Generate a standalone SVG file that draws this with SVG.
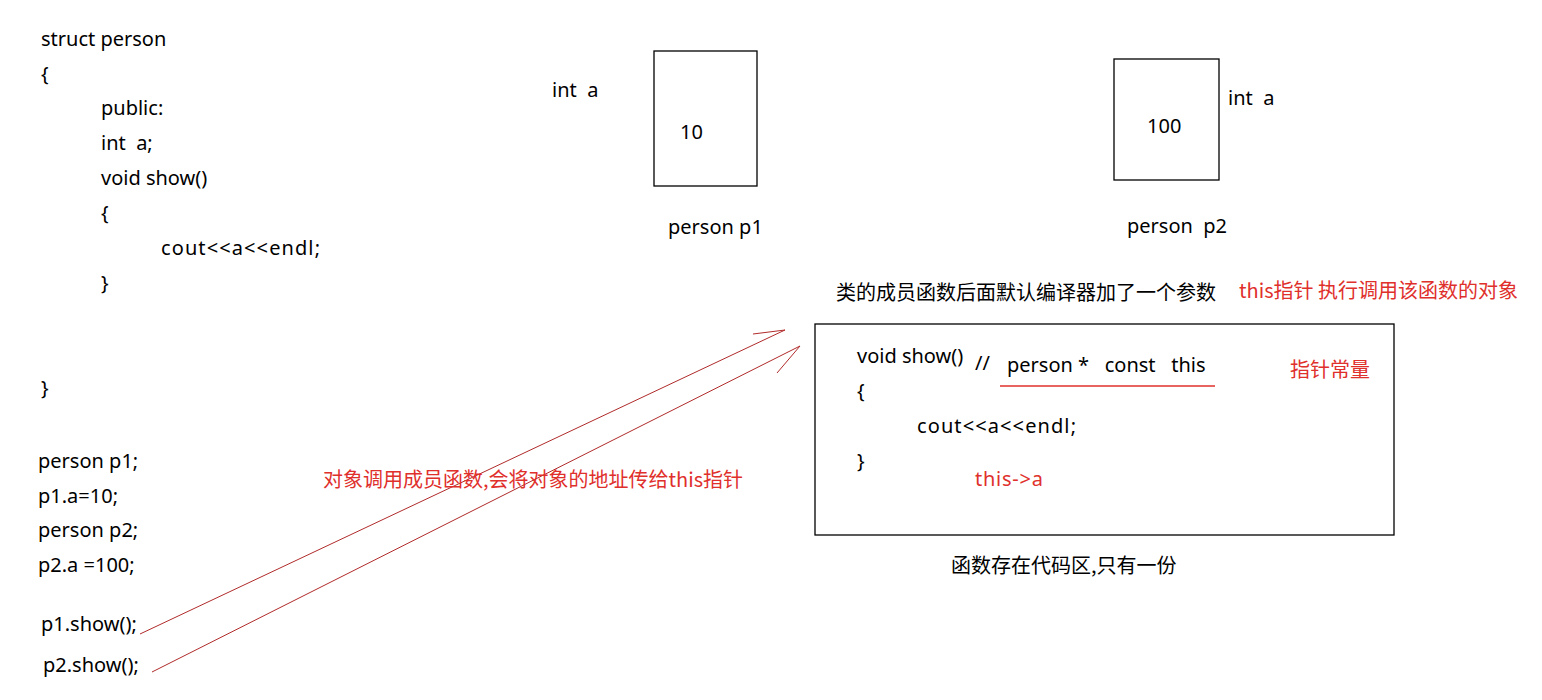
<svg xmlns="http://www.w3.org/2000/svg" width="1542" height="700" viewBox="0 0 1542 700">
<style>
text{font-family:"Noto Sans","Noto Sans CJK SC",sans-serif;font-size:20px;fill:#000;white-space:pre}
.r{fill:#e0302c}
.cn{font-family:"Noto Sans CJK SC","Noto Sans",sans-serif}
.box{fill:#fff;stroke:#000;stroke-width:1.3}
.ln{stroke:#b02a2a;stroke-width:1;fill:none}
</style>
<rect width="1542" height="700" fill="#fff"/>
<g id="code">
<text x="41" y="46">struct person</text>
<text x="41" y="81">{</text>
<text x="101" y="115">public:</text>
<text x="101" y="150" xml:space="preserve">int  a;</text>
<text x="101" y="185">void show()</text>
<text x="101" y="220">{</text>
<text x="161" y="255" textLength="159" lengthAdjust="spacing">cout&lt;&lt;a&lt;&lt;endl;</text>
<text x="101" y="290">}</text>
<text x="41" y="395">}</text>
<text x="38" y="468">person p1;</text>
<text x="38" y="503">p1.a=10;</text>
<text x="38" y="537">person p2;</text>
<text x="38" y="572" xml:space="preserve">p2.a =100;</text>
<text x="41" y="631">p1.show();</text>
<text x="43" y="672">p2.show();</text>
</g>
<g id="p1">
<rect class="box" x="654" y="51" width="103" height="135"/>
<text x="552" y="97" xml:space="preserve">int  a</text>
<text x="680" y="139">10</text>
<text x="668" y="234">person p1</text>
</g>
<g id="p2">
<rect class="box" x="1114" y="59" width="105" height="121"/>
<text x="1147" y="133">100</text>
<text x="1228" y="105" xml:space="preserve">int  a</text>
<text x="1127" y="233" xml:space="preserve">person  p2</text>
</g>
<g id="func">
<text class="cn" x="836" y="300">类的成员函数后面默认编译器加了一个参数</text>
<text class="cn r" x="1239" y="298">this指针 执行调用该函数的对象</text>
<rect class="box" x="815" y="324" width="579" height="211"/>
<text x="857" y="363">void show()</text>
<text x="975" y="370">//</text>
<text x="1007" y="372" xml:space="preserve">person *   const   this</text>
<line x1="1000" y1="386" x2="1215" y2="386" stroke="#e0302c" stroke-width="1.3"/>
<text class="cn r" x="1290" y="377">指针常量</text>
<text x="857" y="398">{</text>
<text x="917" y="433" textLength="159" lengthAdjust="spacing">cout&lt;&lt;a&lt;&lt;endl;</text>
<text x="857" y="468">}</text>
<text class="r" x="975" y="486" textLength="68" lengthAdjust="spacing">this-&gt;a</text>
<text class="cn" x="951" y="573">函数存在代码区,只有一份</text>
</g>
<g id="connectors">
<path class="ln" d="M140,634 L785,330 M753,334 L785,330"/>
<path class="ln" d="M152,672 L800,346 M777,373 L800,346"/>
<text class="cn r" x="323" y="487">对象调用成员函数,会将对象的地址传给this指针</text>
</g>
</svg>
